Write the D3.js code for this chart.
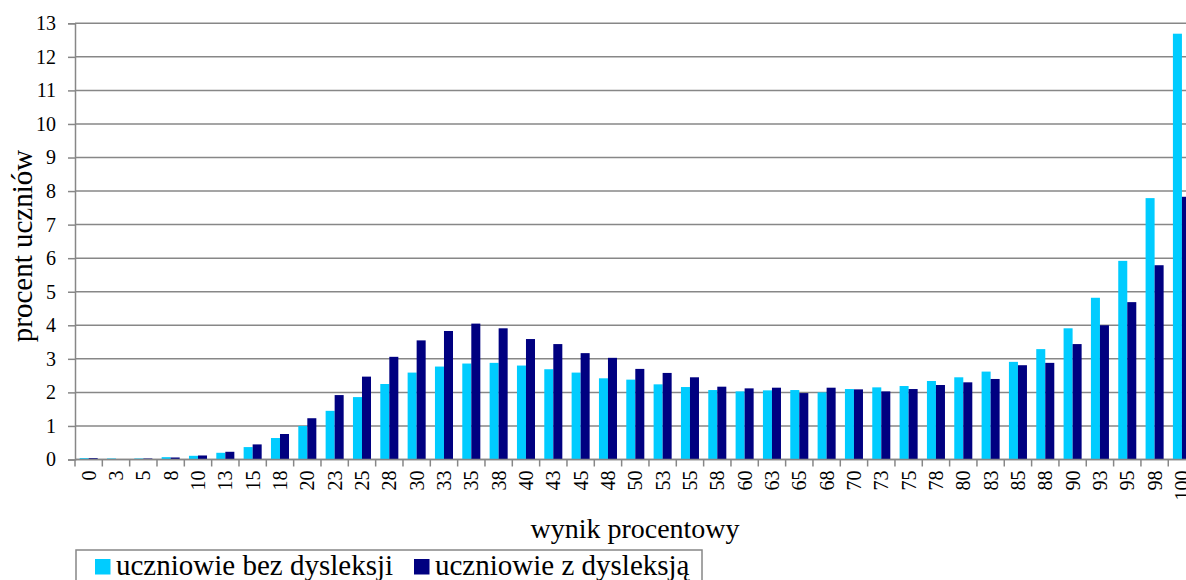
<!DOCTYPE html>
<html><head><meta charset="utf-8">
<script src="https://cdn.jsdelivr.net/npm/d3@7"></script>
<style>body{margin:0;background:#fff}svg{display:block}
svg text{font-family:"Liberation Serif","Times New Roman","DejaVu Serif",serif;fill:#000}</style>
</head><body>
<script>
const categories = ["0","3","5","8","10","13","15","18","20","23","25","28","30","33","35","38","40","43","45","48","50","53","55","58","60","63","65","68","70","73","75","78","80","83","85","88","90","93","95","98","100"];
const bezDysleksji = [0.04,0.03,0.03,0.07,0.11,0.20,0.37,0.64,1.00,1.45,1.86,2.25,2.59,2.77,2.86,2.88,2.80,2.69,2.59,2.42,2.38,2.24,2.16,2.07,2.03,2.06,2.07,2.00,2.10,2.15,2.19,2.34,2.45,2.62,2.91,3.29,3.91,4.82,5.92,7.79,12.69];
const zDysleksja = [0.04,0.01,0.03,0.06,0.12,0.23,0.45,0.76,1.23,1.92,2.47,3.06,3.55,3.83,4.05,3.91,3.59,3.44,3.17,3.03,2.70,2.58,2.45,2.17,2.12,2.14,1.98,2.14,2.09,2.03,2.10,2.22,2.30,2.40,2.81,2.88,3.44,4.00,4.69,5.79,7.83];
const seriesNames = ["uczniowie bez dysleksji","uczniowie z dysleksją"];
const yTicks = [0,1,2,3,4,5,6,7,8,9,10,11,12,13];

(function(){
const W = 1186, H = 580;
const colors = ["#00CCFF","#000080"];
const gridColor = "#878787";
const pL = 75, pR = 1195.6, pT = 23.3, pB = 459.5;

const svg = d3.select("body").append("svg").attr("width",W).attr("height",H);

const x = d3.scaleBand().domain(categories).range([pL,pR]).paddingInner(0.34).paddingOuter(0.17);
const xs = d3.scaleBand().domain([0,1]).range([0,x.bandwidth()]);
const y = d3.scaleLinear().domain([0,13]).range([pB,pT]);

// gridlines
svg.append("g").selectAll("line").data(yTicks).join("line")
  .attr("x1",pL).attr("x2",W).attr("y1",d=>y(d)).attr("y2",d=>y(d))
  .attr("stroke",gridColor).attr("stroke-width",1.5);

// y axis
const yAxis = svg.append("g").attr("transform",`translate(${pL},0)`)
  .call(d3.axisLeft(y).tickValues(yTicks).tickSize(7).tickPadding(12).tickFormat(d3.format("d")));
yAxis.attr("font-family",null).attr("font-size",null);
yAxis.select(".domain").attr("stroke",gridColor).attr("stroke-width",1.5);
yAxis.selectAll(".tick line").attr("stroke",gridColor).attr("stroke-width",1.5);
yAxis.selectAll("text").style("font-size","20px");

// bars
const series = [bezDysleksji, zDysleksja];
series.forEach((vals,si)=>{
  svg.append("g").selectAll("rect").data(categories).join("rect")
    .attr("x",(c)=>x(c)+xs(si))
    .attr("width",xs.bandwidth())
    .attr("y",(c,i)=>y(vals[i]))
    .attr("height",(c,i)=>y(0)-y(vals[i]))
    .attr("fill",colors[si]);
});

// x axis
const step = x.step();
const xAxisG = svg.append("g");
xAxisG.append("line").attr("x1",pL).attr("x2",W).attr("y1",pB).attr("y2",pB)
  .attr("stroke",gridColor).attr("stroke-width",1.5);
xAxisG.selectAll("line.tk").data(d3.range(categories.length+1)).join("line").attr("class","tk")
  .attr("x1",i=>pL+i*step).attr("x2",i=>pL+i*step).attr("y1",pB).attr("y2",pB+7)
  .attr("stroke",gridColor).attr("stroke-width",1.5);
xAxisG.selectAll("text").data(categories).join("text")
  .attr("transform",c=>`translate(${x(c)+x.bandwidth()/2},${pB+11}) rotate(-90)`)
  .attr("text-anchor","end").attr("dy","0.35em")
  .style("font-size","20px").text(c=>c);

// axis titles
svg.append("text").attr("transform",`translate(32,246) rotate(-90)`)
  .attr("text-anchor","middle").style("font-size","29px").text("procent uczniów");
svg.append("text").attr("x",635).attr("y",538)
  .attr("text-anchor","middle").style("font-size","28px").text("wynik procentowy");

// legend
const lg = svg.append("g");
lg.append("rect").attr("x",76).attr("y",550).attr("width",626).attr("height",40)
  .attr("fill","none").attr("stroke",gridColor).attr("stroke-width",1.5);
const legX = [95,414];
seriesNames.forEach((n,i)=>{
  lg.append("rect").attr("x",legX[i]).attr("y",559).attr("width",15.5).attr("height",15.5).attr("fill",colors[i]);
  lg.append("text").attr("x",legX[i]+21).attr("y",575).style("font-size","29px").text(n);
});
})();
</script>
</body></html>
